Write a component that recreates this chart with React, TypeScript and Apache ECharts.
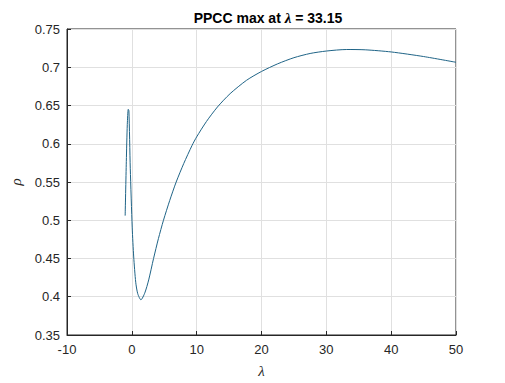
import React, { useEffect, useRef } from "react";
import * as echarts from "echarts";

const lambdaValues: number[] = [
  -1.03, -0.85, -0.7, -0.55, -0.45, -0.24, 0.06, 0.29, 0.6, 0.91, 1.4, 2.0, 2.6, 3.35,
  4.1, 4.88, 5.85, 6.84, 8.0, 9.3, 10, 11.5, 13.2, 15.16, 17.7, 20, 22.5, 25, 27.5, 30, 33.15,
  36, 40, 45, 50,
];
const rhoValues: number[] = [
  0.506, 0.577, 0.625, 0.645, 0.643, 0.568, 0.49, 0.452, 0.419, 0.404, 0.396, 0.405, 0.422, 0.45,
  0.476, 0.5, 0.526, 0.55, 0.574, 0.598, 0.609, 0.629, 0.648, 0.6655, 0.683, 0.6945, 0.7045, 0.7125, 0.718, 0.7212, 0.7232,
  0.7228, 0.72, 0.714, 0.7065,
];
const xTicks = [-10, 0, 10, 20, 30, 40, 50];
const yTicks = [0.35, 0.4, 0.45, 0.5, 0.55, 0.6, 0.65, 0.7, 0.75];
const titlePrefix = "PPCC max at ";
const titleSuffix = " = 33.15";

export default function App() {
  const ref = useRef<HTMLDivElement>(null);
  useEffect(() => {
    if (!ref.current) return;
    const chart = echarts.init(ref.current, undefined, { renderer: "svg" });
    const data = lambdaValues.map((l, i) => [l, rhoValues[i]]);
    const fmt = (v: number) => parseFloat(v.toFixed(2)).toString();
    chart.setOption({
      animation: false,
      backgroundColor: "#ffffff",
      title: {
        text: `{b|${titlePrefix}}{l|λ}{b|${titleSuffix}}`,
        left: 263,
        top: 5,
        textAlign: "center",
        textStyle: {
          rich: {
            b: { fontFamily: "Arial, Liberation Sans", fontWeight: "bold", fontSize: 14, color: "#000" },
            l: { fontFamily: "Liberation Serif", fontStyle: "italic", fontSize: 15, color: "#000" },
          },
        },
      },
      grid: {
        left: 67,
        right: 49,
        top: 29,
        bottom: 45,
        show: true,
        borderColor: "#262626",
        borderWidth: 1,
        backgroundColor: "#ffffff",
      },
      xAxis: {
        type: "value",
        min: -10,
        max: 50,
        interval: 10,
        name: "λ",
        nameLocation: "middle",
        nameGap: 28,
        nameTextStyle: { fontFamily: "Liberation Serif", fontStyle: "italic", fontSize: 15, color: "#262626" },
        axisLine: { show: true, onZero: false, lineStyle: { color: "#262626", width: 1 } },
        axisTick: { show: true, inside: true, length: 4, lineStyle: { color: "#262626" } },
        axisLabel: {
          color: "#262626",
          fontFamily: "Arial, Liberation Sans",
          fontSize: 13,
          margin: 8,
          formatter: (v: number) => (xTicks.includes(v) ? String(v) : ""),
        },
        splitLine: { show: true, lineStyle: { color: "#e0e0e0", width: 1 } },
      },
      yAxis: {
        type: "value",
        min: 0.35,
        max: 0.75,
        interval: 0.05,
        name: "ρ",
        nameLocation: "middle",
        nameGap: 39,
        nameTextStyle: { fontFamily: "Liberation Serif", fontStyle: "italic", fontSize: 15, color: "#262626" },
        axisLine: { show: true, onZero: false, lineStyle: { color: "#262626", width: 1 } },
        axisTick: { show: true, inside: true, length: 4, lineStyle: { color: "#262626" } },
        axisLabel: {
          color: "#262626",
          fontFamily: "Arial, Liberation Sans",
          fontSize: 13,
          margin: 7,
          formatter: (v: number) => (yTicks.some((t) => Math.abs(t - v) < 1e-6) ? fmt(v) : ""),
        },
        splitLine: { show: true, lineStyle: { color: "#e0e0e0", width: 1 } },
      },
      series: [
        {
          type: "line",
          data,
          smooth: 0.25,
          showSymbol: false,
          lineStyle: { color: "#1f6487", width: 1 },
        },
      ],
    });
    return () => chart.dispose();
  }, []);
  return (
    <div
      ref={ref}
      style={{ position: "fixed", left: 0, top: 0, width: 505, height: 383, background: "#fff" }}
    />
  );
}
